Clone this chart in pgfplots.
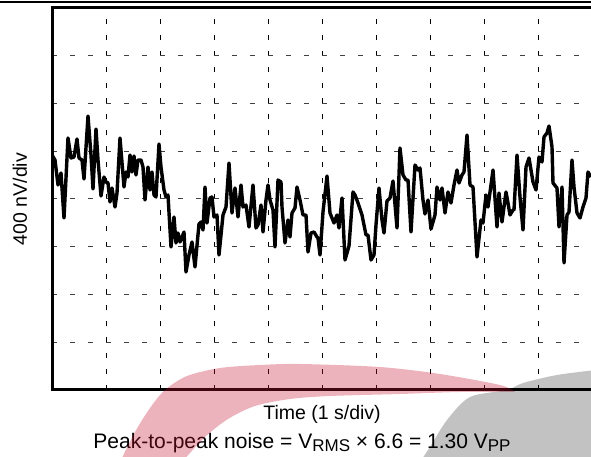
\documentclass[border=0pt]{standalone}
\usepackage{pgfplots}
\pgfplotsset{compat=1.18}
\usepackage{fontspec}
\setmainfont{Liberation Sans}
\definecolor{wmred}{RGB}{200,20,50}
\begin{document}
\begin{tikzpicture}
\begin{axis}[
  at={(52pt,67pt)}, anchor=south west,
  scale only axis, width=540pt, height=382pt,
  xmin=0, xmax=10, ymin=-1600, ymax=1600,
  xtick={0,1,...,10}, ytick={-1600,-1200,...,1600},
  xticklabels={}, yticklabels={},
  major tick length=0pt,
  grid=major,
  major x grid style={black, line width=1pt, dash pattern=on 5pt off 10.92pt},
  major y grid style={black!75, line width=1pt, dash pattern=on 5pt off 13pt},
  separate axis lines,
  axis x line=box, axis y line=box,
  axis line style={line width=3pt, black, -, line cap=rect},
  xlabel={Time (1 s/div)},
  ylabel={400 nV/div},
  label style={font=\fontsize{19.5}{23}\selectfont},
  xlabel style={at={(axis description cs:0.5,-0.0785)}, anchor=base},
  ylabel style={at={(axis description cs:-0.0463,0.5)}, anchor=base},
]
\addplot[black, line width=3.4pt, line join=round] table[x expr={(\thisrow{px}-52)/54}, y expr={(199-\thisrow{py})*400/47.75}] {
px py
52 155
55 160
58 185
61 173
64 218
68 138
71 158
74 157
77 139
79 158
82 160
84 179
88 116
91 155
93 189
96 129
98 160
101 196
104 177
106 182
108 183
110 202
112 188
115 207
117 193
120 138
124 187
126 172
128 177
130 155
132 172
134 156
136 175
138 160
141 160
143 167
145 200
148 167
150 190
152 172
154 195
156 197
159 144
161 167
164 190
166 197
168 195
171 247
174 217
176 243
178 233
180 242
184 232
186 272
189 255
192 242
195 267
199 224
201 222
203 230
205 187
207 223
210 198
212 197
214 217
217 215
219 255
223 215
226 207
229 163
232 213
235 188
238 217
241 185
243 207
246 205
249 227
253 185
256 228
258 225
261 205
263 232
266 200
268 185
270 200
273 210
275 247
278 180
281 182
282 207
285 243
288 220
290 237
292 213
295 208
297 187
300 200
303 215
306 215
308 252
311 233
314 232
317 237
318 238
320 255
323 212
327 176
330 213
334 223
337 215
339 228
342 198
345 260
349 246
353 192
355 195
358 203
362 215
366 235
368 235
371 260
374 255
376 225
379 188
382 220
384 233
387 201
390 198
393 181
397 228
400 148
403 175
406 180
408 180
411 232
415 165
418 170
420 168
423 200
425 214
428 200
431 229
435 215
437 187
440 200
442 188
445 213
448 192
451 203
454 185
457 170
459 183
462 175
464 172
467 135
470 185
473 187
477 257
481 220
483 223
486 195
488 207
493 170
497 227
499 193
502 222
506 192
508 203
510 215
513 210
514 210
517 155
520 197
523 230
526 167
529 158
533 182
536 190
539 157
542 162
544 137
547 133
549 126
552 147
553 183
557 188
559 227
562 187
564 263
567 215
569 212
572 160
574 187
577 213
580 218
583 207
586 198
588 172
591 177
};
\end{axis}
\node[anchor=base, font=\fontsize{21}{25}\selectfont] at (302pt,8pt) {Peak-to-peak noise = V\raisebox{-2.5pt}{\fontsize{17}{17}\selectfont RMS} × 6.6 = 1.30 V\raisebox{-2.5pt}{\fontsize{17}{17}\selectfont PP}};
\draw[line width=1.6pt] (0,455pt) -- (591pt,455pt);
\fill[wmred, fill opacity=0.32] plot[smooth] coordinates {(120pt,-5pt) (135pt,25pt) (150pt,49pt) (165pt,67pt) (187pt,81pt) (220pt,89pt) (260pt,92pt) (300pt,93pt) (380pt,90pt) (440pt,83pt) (500pt,72pt) (515pt,65pt)} -- plot[smooth] coordinates {(515pt,65pt) (460pt,65pt) (400pt,63pt) (330pt,61pt) (290pt,58pt) (255pt,51pt) (228pt,38pt) (205pt,20pt) (182pt,-5pt)} -- cycle;
\fill[black, fill opacity=0.24] plot[smooth] coordinates {(420pt,-5pt) (430pt,10pt) (447pt,37pt) (470pt,60pt) (507pt,67pt) (523pt,74pt) (557pt,82pt) (596pt,87pt)} -- (596pt,-5pt) -- cycle;
\pgfresetboundingbox
\useasboundingbox (0,0) rectangle (591pt,457pt);
\end{tikzpicture}
\end{document}
